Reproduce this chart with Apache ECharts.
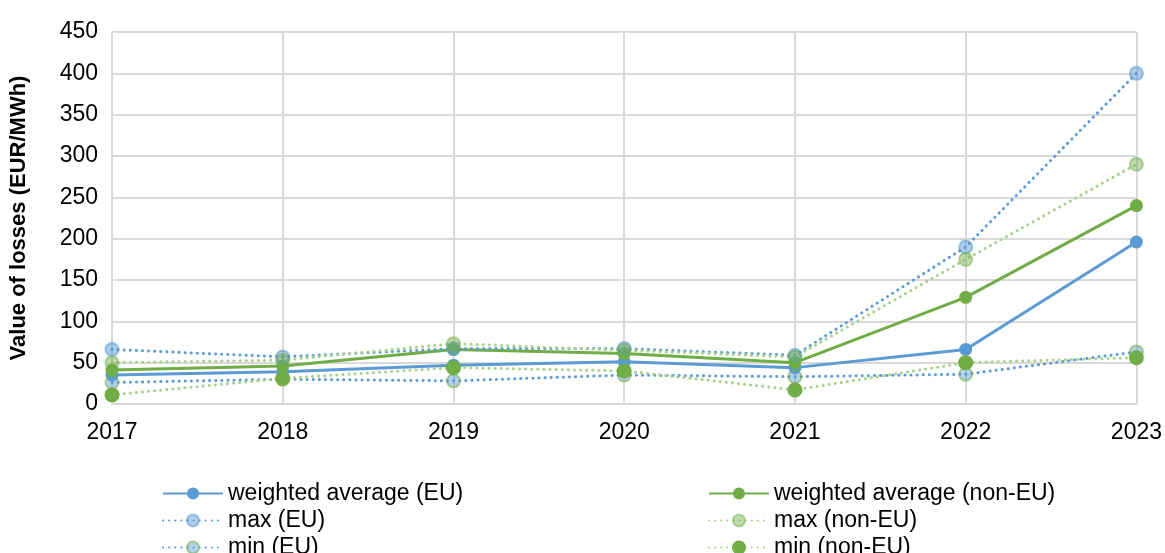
<!DOCTYPE html>
<html>
<head>
<meta charset="utf-8">
<title>Value of losses</title>
<script src="https://cdn.jsdelivr.net/npm/echarts@6/dist/echarts.min.js"></script>
<style>
  html, body { margin: 0; padding: 0; background: #fff; }
  #chart { width: 1165px; height: 553px; }
</style>
</head>
<body>
<div id="chart"></div>
<script>
// ===== data =====
const years = ['2017', '2018', '2019', '2020', '2021', '2022', '2023'];

const avgEU    = [35, 39, 47, 51, 44, 66, 196];
const avgNonEU = [41, 46, 66, 61, 50, 129, 240];
const maxEU    = [66, 57, 67, 67, 59, 190, 400];
const maxNonEU = [50, 53, 73, 65, 57, 175, 290];
const minEU    = [26, 30, 28, 35, 33, 36, 63];
const minNonEU = [11, 31, 44, 40, 17, 50, 56];

const BLUE = '#5B9BD5';
const GREEN = '#70AD47';
const LIGHT_GREEN = '#A9D18E';
const FONT = 'Liberation Sans, Arial, sans-serif';

const dotted = [0.1, 6];

function solidSeries(name, data, color) {
    return {
        name: name,
        type: 'line',
        data: data,
        symbol: 'circle',
        symbolSize: 13,
        lineStyle: { color: color, width: 3 },
        itemStyle: { color: color },
    };
}

function dottedSeries(name, data, lineColor, fill, border) {
    return {
        name: name,
        type: 'line',
        data: data,
        symbol: 'circle',
        symbolSize: 13,
        lineStyle: { color: lineColor, width: 3, type: dotted, cap: 'round' },
        itemStyle: { color: fill, borderColor: border, borderWidth: 2 },
    };
}

// one legend per entry, so the two columns line up like the original
function legendItem(name, left, top) {
    return {
        left: left, top: top,
        itemWidth: 60, itemHeight: 15, itemGap: 0,
        textStyle: { fontSize: 23, lineHeight: 23, color: '#000', fontFamily: FONT },
        data: [name],
    };
}

const chart = echarts.init(document.getElementById('chart'));

chart.setOption({
    animation: false,
    textStyle: { fontFamily: FONT },
    grid: { left: 110, right: 27, top: 32, bottom: 149, containLabel: false },
    legend: [
        legendItem('weighted average (EU)', 157, 477),
        legendItem('max (EU)', 157, 504),
        legendItem('min (EU)', 157, 531),
        legendItem('weighted average (non-EU)', 703, 477),
        legendItem('max (non-EU)', 703, 504),
        legendItem('min (non-EU)', 703, 531),
    ],
    xAxis: {
        type: 'category',
        data: years,
        boundaryGap: false,
        axisLine: { lineStyle: { color: '#d9d9d9', width: 2 } },
        axisTick: { show: false },
        axisLabel: { fontSize: 23, color: '#000', margin: 17 },
        splitLine: { show: true, lineStyle: { color: '#d9d9d9', width: 2 } },
    },
    yAxis: {
        type: 'value',
        min: 0, max: 450, interval: 50,
        name: 'Value of losses (EUR/MWh)',
        nameLocation: 'middle',
        nameGap: 82,
        nameTextStyle: { fontSize: 22, fontWeight: 'bold', color: '#000' },
        axisLine: { show: false },
        axisTick: { show: false },
        axisLabel: { fontSize: 23, color: '#000', margin: 14 },
        splitLine: { lineStyle: { color: '#d9d9d9', width: 2 } },
    },
    series: [
        solidSeries('weighted average (EU)', avgEU, BLUE),
        solidSeries('weighted average (non-EU)', avgNonEU, GREEN),
        dottedSeries('max (EU)', maxEU, BLUE, 'rgba(91,155,213,0.5)', 'rgba(91,155,213,0.55)'),
        dottedSeries('max (non-EU)', maxNonEU, LIGHT_GREEN, 'rgba(112,173,71,0.45)', 'rgba(112,173,71,0.5)'),
        dottedSeries('min (EU)', minEU, BLUE, 'rgba(91,155,213,0.45)', 'rgba(112,173,71,0.55)'),
        dottedSeries('min (non-EU)', minNonEU, LIGHT_GREEN, GREEN, GREEN),
    ],
});
</script>
</body>
</html>
